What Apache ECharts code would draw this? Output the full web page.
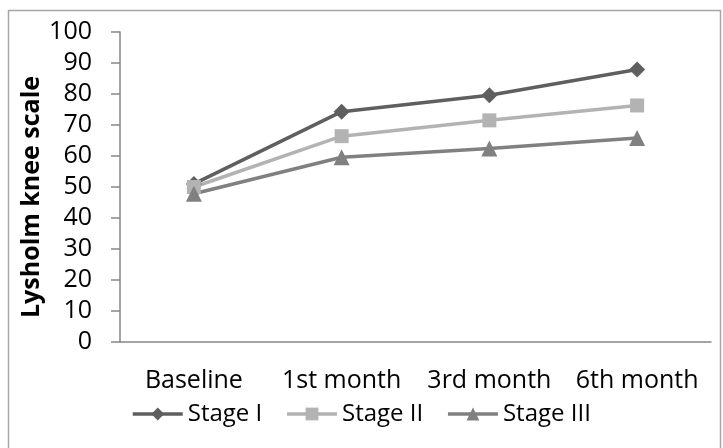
<!DOCTYPE html>
<html>
<head>
<meta charset="utf-8">
<script src="https://cdn.jsdelivr.net/npm/echarts@6/dist/echarts.min.js"></script>
<style>
  html, body { margin: 0; padding: 0; background: #fff; }
  #chart { width: 723px; height: 448px; }
</style>
</head>
<body>
<div id="chart"></div>
<script>
// Lysholm knee scores by follow-up time and stage
const categories = ['Baseline', '1st month', '3rd month', '6th month'];
const stageI   = [51.0, 74.3, 79.6, 87.9];
const stageII  = [50.0, 66.4, 71.5, 76.3];
const stageIII = [47.8, 59.6, 62.4, 65.8];
const yTicks = { min: 0, max: 100, interval: 10 };

const FONT = '"Open Sans", "Noto Sans", sans-serif';
const AXIS_GREY = '#868686';

function lineSeries(name, data, color, symbol, size) {
  return {
    name: name,
    type: 'line',
    data: data,
    symbol: symbol,
    symbolSize: size,
    lineStyle: { color: color, width: 3.5 },
    itemStyle: { color: color },
    emphasis: { disabled: true },
    animation: false
  };
}

const chart = echarts.init(document.getElementById('chart'), null, { renderer: 'canvas' });
chart.setOption({
  backgroundColor: '#ffffff',
  animation: false,
  graphic: [{
    type: 'rect',
    shape: { x: 8.5, y: 10.5, width: 712, height: 470 },
    style: { fill: 'none', stroke: '#a6a6a6', lineWidth: 1.5 },
    silent: true
  }],
  grid: { left: 120, right: 12, top: 32, bottom: 106 },
  legend: {
    left: 126,
    top: 397,
    itemWidth: 50,
    itemHeight: 16,
    itemGap: 23,
    lineStyle: { width: 3.5 },
    textStyle: { fontFamily: FONT, fontSize: 24, color: '#000' },
    data: ['Stage I', 'Stage II', 'Stage III']
  },
  xAxis: {
    type: 'category',
    data: categories,
    boundaryGap: true,
    axisLine: { lineStyle: { color: AXIS_GREY, width: 1.5 } },
    axisTick: { show: false },
    axisLabel: { fontFamily: FONT, fontSize: 25, color: '#000', margin: 26, interval: 0 }
  },
  yAxis: {
    type: 'value',
    min: yTicks.min,
    max: yTicks.max,
    interval: yTicks.interval,
    name: 'Lysholm knee scale',
    nameLocation: 'middle',
    nameGap: 76,
    nameMoveOverlap: false,
    nameTextStyle: { fontFamily: FONT, fontSize: 25, fontWeight: 'bold', color: '#000', padding: [0, 20, 0, 0] },
    axisLine: { show: true, lineStyle: { color: AXIS_GREY, width: 1.5 } },
    axisTick: { show: true, inside: false, length: 9, lineStyle: { color: AXIS_GREY, width: 1.5 } },
    splitLine: { show: false },
    axisLabel: { fontFamily: FONT, fontSize: 25, color: '#000', margin: 28 }
  },
  series: [
    lineSeries('Stage I', stageI, '#5f5f5f', 'diamond', 16),
    lineSeries('Stage II', stageII, '#b3b3b3', 'rect', 14),
    lineSeries('Stage III', stageIII, '#808080', 'triangle', 16)
  ]
});
</script>
</body>
</html>
